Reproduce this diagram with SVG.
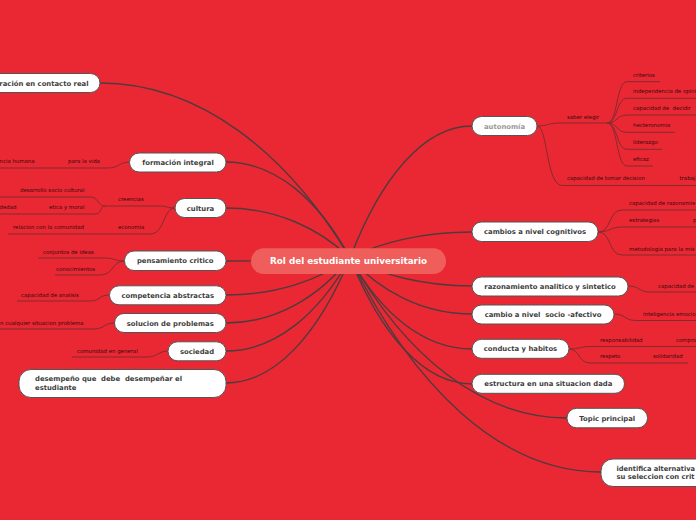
<svg xmlns="http://www.w3.org/2000/svg" width="696" height="520" viewBox="0 0 696 520">
<style>
.bg{fill:#E92833}
.main{fill:none;stroke:#4f3b3d;stroke-width:1.4}
.sub{fill:none;stroke:#852b30;stroke-width:1}
.box{fill:#fff;stroke:#555;stroke-width:1}
.nt{font-family:"DejaVu Sans",Verdana,sans-serif;font-weight:bold;font-size:6.85px;fill:#3d3d3d;white-space:pre}
.st{font-family:"DejaVu Sans",Verdana,sans-serif;font-size:5.4px;fill:#360a0d;white-space:pre}
.c{text-anchor:middle}
</style>
<rect class="bg" x="0" y="0" width="696" height="520"/>
<g id="connectors">
<path class="main" d="M350,258 C287.5,153 200,83 100,83"/>
<path class="main" d="M350,258 C319,200.4 275.6,162 226,162"/>
<path class="main" d="M350,258 C319,228 275.6,208 226,208"/>
<path class="main" d="M350,258 C319,259.8 275.6,261 226,261"/>
<path class="main" d="M350,258 C319,280.2 275.6,295 226,295"/>
<path class="main" d="M350,258 C319,297 275.6,323 226,323"/>
<path class="main" d="M350,258 C319,313.8 275.6,351 226,351"/>
<path class="main" d="M350,258 C319,333 275.6,383 226,383"/>
<path class="main" d="M350,258 C380.5,178.8 423.2,126 472,126"/>
<path class="main" d="M350,258 C380.5,242.4 423.2,232 472,232"/>
<path class="main" d="M350,258 C380.5,274.8 423.2,286 472,286"/>
<path class="main" d="M350,258 C380.5,291.6 423.2,314 472,314"/>
<path class="main" d="M350,258 C380.5,312.6 423.2,349 472,349"/>
<path class="main" d="M350,258 C380.5,333.6 423.2,384 472,384"/>
<path class="main" d="M350,258 C404.25,354 480.2,418 567,418"/>
<path class="main" d="M350,258 C412.75,386.4 500.6,472 601,472"/>
<path class="sub" d="M130,162 C119,162 119,168 108,168 L0,168"/>
<path class="sub" d="M175,208 C167,208 167,206 159,206 L105,206"/>
<path class="sub" d="M175,208 C163,208 165,234 150,234 L8,234"/>
<path class="sub" d="M105,206 C97,206 99,197 90,197 L0,197"/>
<path class="sub" d="M105,206 C100,206 102,214 95,214 L0,214"/>
<path class="sub" d="M124,261 C114,261 115,258 105,258 L38,258"/>
<path class="sub" d="M124,261 C112,261 114,275 100,275 L55,275"/>
<path class="sub" d="M109,295 C99,295 100,301 90,301 L17,301"/>
<path class="sub" d="M114,323 C104,323 105,329 93,329 L0,329"/>
<path class="sub" d="M168,351 C158,351 158,357 147,357 L72,357"/>
<path class="sub" d="M537,126 C548,126 548,123 560,123 L607,123"/>
<path class="sub" d="M607,123 C618,123 616,81.7 627,81.7 L660,81.7"/>
<path class="sub" d="M607,123 C618,123 616,98.3 627,98.3 L700,98.3"/>
<path class="sub" d="M607,123 C618,123 616,115 627,115 L700,115"/>
<path class="sub" d="M607,123 C618,123 616,132.3 627,132.3 L675,132.3"/>
<path class="sub" d="M607,123 C618,123 616,149.3 627,149.3 L662,149.3"/>
<path class="sub" d="M607,123 C618,123 616,166 627,166 L653,166"/>
<path class="sub" d="M537,126 C548,126 546,185.5 562,185.5 L700,185.5"/>
<path class="sub" d="M598,232 C612,232 608,210 622,210 L700,210"/>
<path class="sub" d="M598,232 C610,232 610,227 622,227 L700,227"/>
<path class="sub" d="M598,232 C612,232 608,255 622,255 L700,255"/>
<path class="sub" d="M628,286 C640,286 638,292 650,292 L700,292"/>
<path class="sub" d="M614,314 C626,314 624,320.5 636,320.5 L700,320.5"/>
<path class="sub" d="M569,349 C580,349 580,346.5 590,346.5 L700,346.5"/>
<path class="sub" d="M569,349 C580,349 578,363 590,363 L688,363"/>
</g>
<g id="sublabels">
<text class="st" x="-0.5" y="163">ncia humana</text>
<text class="st" x="68" y="163">para la vida</text>
<text class="st" x="118" y="201">creencias</text>
<text class="st" x="118" y="229">economia</text>
<text class="st" x="20" y="192">desarrollo socio cultural</text>
<text class="st" x="49" y="209">etica y moral</text>
<text class="st" x="-0.5" y="209">dedad</text>
<text class="st" x="13" y="229">relacion con la comunidad</text>
<text class="st" x="43" y="253.5">conjuntos de ideas</text>
<text class="st" x="56" y="270.5">conocimientos</text>
<text class="st" x="21" y="296.5">capacidad de analisis</text>
<text class="st" x="0" y="324.5">n cualquier situacion problema</text>
<text class="st" x="77" y="352.5">comunidad en general</text>
<text class="st" x="567" y="119">saber elegir</text>
<text class="st" x="633" y="76.7">criterios</text>
<text class="st" x="633" y="93.3">independencia de opini</text>
<text class="st" x="633" y="110">capacidad de  decidir</text>
<text class="st" x="633" y="127.3">hecteronomia</text>
<text class="st" x="633" y="144.3">liderazgo</text>
<text class="st" x="633" y="161">eficaz</text>
<text class="st" x="567" y="180">capacidad de tomar decision</text>
<text class="st" x="679.5" y="180">trabaj</text>
<text class="st" x="629" y="205">capacidad de razonamie</text>
<text class="st" x="629" y="222">estrategias</text>
<text class="st" x="693" y="222">p</text>
<text class="st" x="629" y="250.5">metodologia para la mis</text>
<text class="st" x="658" y="287.5">capacidad de</text>
<text class="st" x="643" y="315.5">inteligencia emocio</text>
<text class="st" x="600" y="341.5">responsabilidad</text>
<text class="st" x="676" y="341.5">compro</text>
<text class="st" x="600" y="358">respeto</text>
<text class="st" x="653" y="358">solidaridad</text>
</g>
<g id="n-racion"><rect class="box" x="-40" y="73.5" width="140" height="19" rx="9.5"/><text class="nt" x="88.5" y="85.7" text-anchor="end">ración en contacto real</text></g>
<g id="n-formacion"><rect class="box" x="129.5" y="153" width="96.5" height="19" rx="9.5"/><text class="nt c" x="178" y="164.5">formación integral</text></g>
<g id="n-cultura"><rect class="box" x="175" y="198.5" width="51" height="19" rx="9.5"/><text class="nt c" x="200.5" y="210.5">cultura</text></g>
<g id="n-pensamiento"><rect class="box" x="124.5" y="251" width="101.5" height="19.5" rx="9.5"/><text class="nt c" x="175.25" y="263">pensamiento critico</text></g>
<g id="n-competencia"><rect class="box" x="109.5" y="285.8" width="116.5" height="19" rx="9.5"/><text class="nt c" x="167.75" y="297.7">competencia abstractas</text></g>
<g id="n-solucion"><rect class="box" x="114.5" y="313.5" width="111.5" height="19" rx="9.5"/><text class="nt c" x="170.25" y="325.5">solucion de problemas</text></g>
<g id="n-sociedad"><rect class="box" x="168" y="341.8" width="58" height="19" rx="9.5"/><text class="nt c" x="197" y="353.7">sociedad</text></g>
<g id="n-desempeno"><rect class="box" x="19" y="369.5" width="207" height="28" rx="12"/><text class="nt" x="35" y="381">desempeño que  debe  desempeñar el</text><text class="nt" x="35" y="389.5">estudiante</text></g>
<g id="n-autonomia"><rect class="box" x="472" y="116.5" width="65" height="19" rx="9.5"/><text class="nt c" x="504.5" y="128.5" style="fill:#999">autonomía</text></g>
<g id="n-cambios"><rect class="box" x="472" y="222" width="126" height="19.5" rx="9.5"/><text class="nt c" x="535" y="234">cambios a nivel cognitivos</text></g>
<g id="n-razonamiento"><rect class="box" x="472" y="277" width="156" height="19" rx="9.5"/><text class="nt c" x="550" y="288.5">razonamiento analitico y sintetico</text></g>
<g id="n-socio"><rect class="box" x="472" y="305" width="142" height="19" rx="9.5"/><text class="nt c" x="543" y="317">cambio a nivel  socio -afectivo</text></g>
<g id="n-conducta"><rect class="box" x="472" y="339.3" width="97" height="19" rx="9.5"/><text class="nt c" x="520.5" y="351.3">conducta y habitos</text></g>
<g id="n-estructura"><rect class="box" x="472" y="374.3" width="152.5" height="19" rx="9.5"/><text class="nt c" x="548.25" y="386.3">estructura en una situacion dada</text></g>
<g id="n-topic"><rect class="box" x="567" y="408.3" width="80.5" height="19.5" rx="9.5"/><text class="nt c" x="607.25" y="420.5">Topic principal</text></g>
<g id="n-identifica"><rect class="box" x="601" y="459" width="130" height="27.5" rx="12"/><text class="nt" x="616.5" y="470.5" textLength="78.5" lengthAdjust="spacingAndGlyphs">identifica alternativa</text><text class="nt" x="616.5" y="478.5" textLength="78" lengthAdjust="spacingAndGlyphs">su seleccion con crit</text></g>
<g id="n-central"><rect x="251" y="248.3" width="195" height="25.7" rx="12.85" fill="#EF5E5A"/><text x="348.5" y="264" text-anchor="middle" font-family="DejaVu Sans, Verdana, sans-serif" font-weight="bold" font-size="8.8" fill="#fff">Rol del estudiante universitario</text></g>
</svg>
